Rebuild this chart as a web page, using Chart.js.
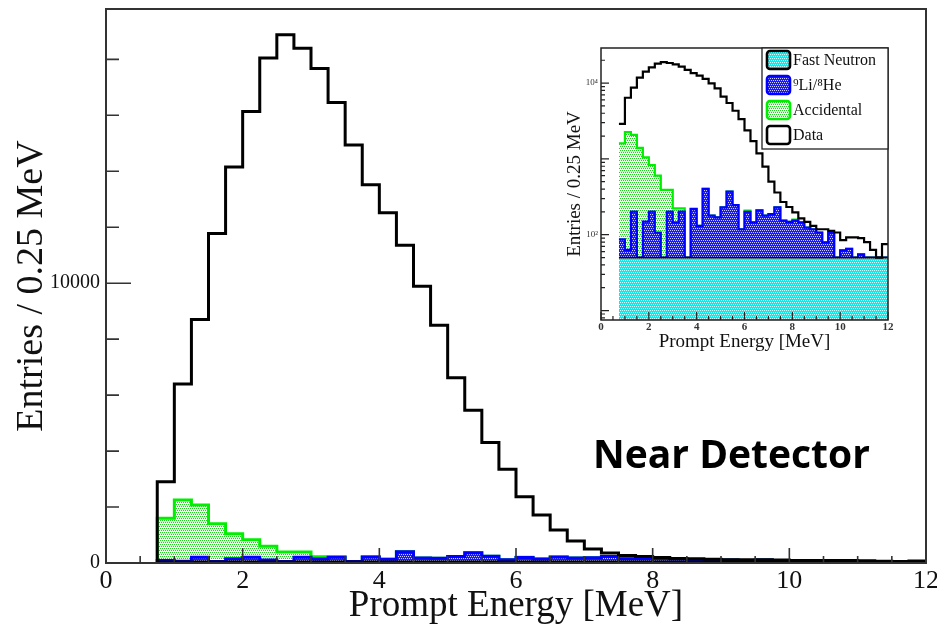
<!DOCTYPE html>
<html>
<head>
<meta charset="utf-8">
<script src="https://cdn.jsdelivr.net/npm/chart.js@4.4.0/dist/chart.umd.min.js"></script>
<style>
  html, body { margin: 0; padding: 0; background: #fff; }
  #wrap { position: relative; width: 937px; height: 628px; overflow: hidden; }
  #main { position: absolute; left: 0; top: 0; }
  #inset { position: absolute; left: 555px; top: 40px; }
  #tag { position: absolute; left: 593px; top: 433px; font: bold 39px/1 "Open Sans", sans-serif; color: #000; white-space: nowrap; }
</style>
</head>
<body>
<div id="wrap">
  <canvas id="main" width="937" height="628"></canvas>
  <canvas id="inset" width="345" height="320"></canvas>
  <div id="tag">Near Detector</div>
</div>
<script>
'use strict';

// low edge of each 0.25 MeV bin
const binStarts = [0.75, 1.0, 1.25, 1.5, 1.75, 2.0, 2.25, 2.5, 2.75, 3.0, 3.25, 3.5, 3.75, 4.0, 4.25,
  4.5, 4.75, 5.0, 5.25, 5.5, 5.75, 6.0, 6.25, 6.5, 6.75, 7.0, 7.25, 7.5, 7.75, 8.0, 8.25,
  8.5, 8.75, 9.0, 9.25, 9.5, 9.75, 10.0, 10.25, 10.5, 10.75, 11.0, 11.25, 11.5, 11.75];
const binWidth = 0.25;

const dataCounts = [2900, 6400, 8700, 11780, 14150, 16140, 18050, 18880, 18400, 17670, 16460, 14940, 13520, 12520, 11360,
  9890, 8500, 6620, 5460, 4310, 3350, 2370, 1715, 1180, 790, 500, 360, 270, 232, 197, 164,
  148, 131, 118, 118, 112, 107, 85, 92, 92, 90, 80, 63, 50, 75];
const fastNeutron = [50, 50, 50, 50, 50, 50, 50, 50, 50, 50, 50, 50, 50, 50, 50,
  50, 50, 50, 50, 50, 50, 50, 50, 50, 50, 50, 50, 50, 50, 50, 50,
  50, 50, 50, 50, 50, 50, 50, 50, 50, 50, 50, 50, 50, 50];
const li9He8 = [37, 13, 152, 0, 99, 152, 57, 0, 152, 95, 152, 0, 168, 81, 351,
  128, 119, 179, 320, 195, 68, 150, 95, 160, 128, 137, 180, 103, 98, 103, 95,
  74, 68, 57, 29, 55, 0, 12, 15, 0, 5, 0, 0, 0, 0];
const accidental = [1513, 2187, 1868, 1350, 896, 628, 493, 340, 188, 77, 20, 0, 3, 0, 0,
  0, 0, 0, 0, 0, 0, 8, 0, 0, 0, 0, 0, 0, 0, 5, 0,
  0, 0, 0, 0, 0, 0, 0, 0, 0, 0, 0, 0, 0, 0];

const mainXTicks = [0, 2, 4, 6, 8, 10, 12];
const mainYTicks = [0, 10000];
const insetXTicks = [0, 2, 4, 6, 8, 10, 12];
const insetYTicks = [100, 10000];
const insetYTickLabels = ['10²', '10⁴'];
const legendOrder = [1, 2, 3, 0];

Chart.defaults.font.family = '"Liberation Serif", "DejaVu Serif", serif';
Chart.defaults.color = '#111';

function dotPattern(bg, dot) {
  const c = document.createElement('canvas');
  c.width = 4; c.height = 4;
  const g = c.getContext('2d');
  g.fillStyle = bg; g.fillRect(0, 0, 4, 4);
  g.fillStyle = dot;
  [[0, 0], [2, 0], [1, 2], [3, 2]].forEach(([x, y]) => g.fillRect(x, y, 1, 1));
  return g.createPattern(c, 'repeat');
}

const cyanFill  = dotPattern('#00f0f0', '#d8ffff');
const blueFill  = dotPattern('#1818ff', '#d0d0ff');
const greenFill = dotPattern('#f4fff4', '#18d818');

// the three backgrounds are stacked: fast neutron, + Li/He, + accidental
const fnTop  = fastNeutron.slice();
const liTop  = fastNeutron.map((v, i) => v + li9He8[i]);
const accTop = liTop.map((v, i) => v + accidental[i]);

function steps(vals) {
  const pts = [{ x: binStarts[0], y: 0 }];
  vals.forEach((v, i) => pts.push({ x: binStarts[i], y: v }));
  const last = binStarts.length - 1;
  pts.push({ x: binStarts[last] + binWidth, y: vals[last] });
  return pts;
}

function buildDatasets(lw) {
  return [
    { label: 'Data', data: steps(dataCounts), borderColor: '#000', backgroundColor: '#fff', borderWidth: lw, fill: false },
    { label: 'Fast Neutron', data: steps(fnTop), borderColor: '#000', backgroundColor: cyanFill, borderWidth: lw * 0.8, fill: 'start' },
    { label: '⁹Li/⁸He', data: steps(liTop), borderColor: '#0000ff', backgroundColor: blueFill, borderWidth: lw, fill: 'start' },
    { label: 'Accidental', data: steps(accTop), borderColor: '#00ee00', backgroundColor: greenFill, borderWidth: lw, fill: 'start' },
  ].map(d => Object.assign({ stepped: 'before', pointRadius: 0, clip: 4 }, d));
}

// ROOT-like frame with ticks pointing inward
const frameTicks = {
  id: 'frameTicks',
  afterDatasetsDraw(chart, args, o) {
    const { ctx, chartArea: a, scales: { x, y } } = chart;
    ctx.save();
    ctx.strokeStyle = o.color; ctx.lineWidth = o.tickWidth;
    ctx.beginPath();
    for (let v = x.min; v <= x.max + 1e-9; v += o.xMinor) {
      const px = x.getPixelForValue(v);
      const len = Math.abs(v / o.xMajor - Math.round(v / o.xMajor)) < 1e-6 ? o.xMajorLen : o.xMinorLen;
      ctx.moveTo(px, a.bottom); ctx.lineTo(px, a.bottom - len);
    }
    const yt = [];
    if (o.log) {
      for (let dec = 1; dec <= 100000; dec *= 10) {
        for (let k = 1; k < 10; k++) {
          const v = k * dec;
          if (v >= y.min && v <= y.max) yt.push([v, k === 1]);
        }
      }
    } else {
      for (let v = y.min; v <= y.max; v += o.yMinor) yt.push([v, v % o.yMajor === 0]);
    }
    yt.forEach(([v, major]) => {
      const py = y.getPixelForValue(v);
      ctx.moveTo(a.left, py); ctx.lineTo(a.left + (major ? o.yMajorLen : o.yMinorLen), py);
    });
    ctx.stroke();
    ctx.lineWidth = o.frameWidth;
    ctx.strokeRect(a.left, a.top, a.right - a.left, a.bottom - a.top);
    ctx.restore();
  }
};

const insetLegend = {
  id: 'insetLegend',
  afterDraw(chart, args, o) {
    const { ctx, chartArea: a } = chart;
    const left = a.right - o.width, top = a.top;
    ctx.save();
    ctx.fillStyle = '#fff';
    ctx.fillRect(left, top, o.width, o.height);
    ctx.strokeStyle = '#222'; ctx.lineWidth = 1.3;
    ctx.strokeRect(left, top, o.width, o.height);
    legendOrder.forEach((di, i) => {
      const ds = chart.data.datasets[di];
      const cy = top + o.firstRow + i * o.rowGap;
      ctx.beginPath();
      ctx.roundRect(left + 5, cy - 9, 23, 18, 3);
      ctx.fillStyle = ds.backgroundColor; ctx.fill();
      ctx.lineWidth = 2.6; ctx.strokeStyle = ds.borderColor; ctx.stroke();
      ctx.fillStyle = '#111';
      ctx.font = '16px "Liberation Serif", serif';
      ctx.textBaseline = 'middle';
      ctx.fillText(ds.label, left + 31, cy + 1);
    });
    ctx.restore();
  }
};

new Chart(document.getElementById('main'), {
  type: 'line',
  data: { datasets: buildDatasets(3) },
  plugins: [frameTicks],
  options: {
    responsive: false,
    animation: false,
    layout: { padding: { left: 0, top: 9, right: 11, bottom: 0 } },
    plugins: {
      legend: { display: false },
      tooltip: { enabled: false },
      frameTicks: { color: '#333', tickWidth: 1.6, frameWidth: 2, log: false,
        xMajor: 2, xMinor: 0.5, xMajorLen: 15, xMinorLen: 7,
        yMajor: 10000, yMinor: 2000, yMajorLen: 25, yMinorLen: 13 }
    },
    scales: {
      x: {
        type: 'linear', min: 0, max: 12,
        grid: { display: false, drawTicks: false, tickLength: 0 },
        border: { display: false },
        afterBuildTicks: s => { s.ticks = mainXTicks.map(v => ({ value: v })); },
        afterFit: s => { s.height = 65; s.paddingLeft = 0; s.paddingRight = 0; },
        ticks: { autoSkip: false, maxRotation: 0, padding: 3, font: { size: 26 }, color: '#111',
          callback: v => String(v) },
        title: { display: true, text: 'Prompt Energy [MeV]', font: { size: 37 }, color: '#111', padding: { top: 0, bottom: 0 } }
      },
      y: {
        type: 'linear', min: 0, max: 19800,
        grid: { display: false, drawTicks: false, tickLength: 0 },
        border: { display: false },
        afterBuildTicks: s => { s.ticks = mainYTicks.map(v => ({ value: v })); },
        afterFit: s => { s.width = 106; s.paddingTop = 0; s.paddingBottom = 0; },
        ticks: { autoSkip: false, padding: 6, font: { size: 20 }, color: '#111',
          callback: v => String(v) },
        title: { display: true, text: 'Entries / 0.25 MeV', font: { size: 38 }, color: '#111', padding: { top: 9, bottom: 0 } }
      }
    }
  }
});

new Chart(document.getElementById('inset'), {
  type: 'line',
  data: { datasets: buildDatasets(2.2) },
  plugins: [frameTicks, insetLegend],
  options: {
    responsive: false,
    animation: false,
    layout: { padding: { left: 0, top: 8, right: 12, bottom: 0 } },
    plugins: {
      legend: { display: false },
      tooltip: { enabled: false },
      frameTicks: { color: '#222', tickWidth: 1.2, frameWidth: 1.5, log: true,
        xMajor: 2, xMinor: 0.5, xMajorLen: 8, xMinorLen: 4,
        yMajorLen: 8, yMinorLen: 4 },
      insetLegend: { width: 126, height: 101, firstRow: 12, rowGap: 25 }
    },
    scales: {
      x: {
        type: 'linear', min: 0, max: 12,
        grid: { display: false, drawTicks: false, tickLength: 0 },
        border: { display: false },
        afterBuildTicks: s => { s.ticks = insetXTicks.map(v => ({ value: v })); },
        afterFit: s => { s.height = 40; s.paddingLeft = 0; s.paddingRight = 0; },
        ticks: { autoSkip: false, maxRotation: 0, padding: 1, font: { size: 11, weight: 'bold' }, color: '#333' },
        title: { display: true, text: 'Prompt Energy [MeV]', font: { size: 19 }, color: '#111', padding: { top: 0, bottom: 6.6 } }
      },
      y: {
        type: 'logarithmic', min: 7.5, max: 29000,
        grid: { display: false, drawTicks: false, tickLength: 0 },
        border: { display: false },
        afterBuildTicks: s => { s.ticks = insetYTicks.map(v => ({ value: v })); },
        afterFit: s => { s.width = 46; s.paddingTop = 0; s.paddingBottom = 0; },
        ticks: { autoSkip: false, padding: 3, font: { size: 9 }, color: '#333',
          callback: v => insetYTickLabels[insetYTicks.indexOf(v)] },
        title: { display: true, text: 'Entries / 0.25 MeV', font: { size: 19 }, color: '#111', padding: { top: 8.6, bottom: 0 } }
      }
    }
  }
});
</script>
</body>
</html>
